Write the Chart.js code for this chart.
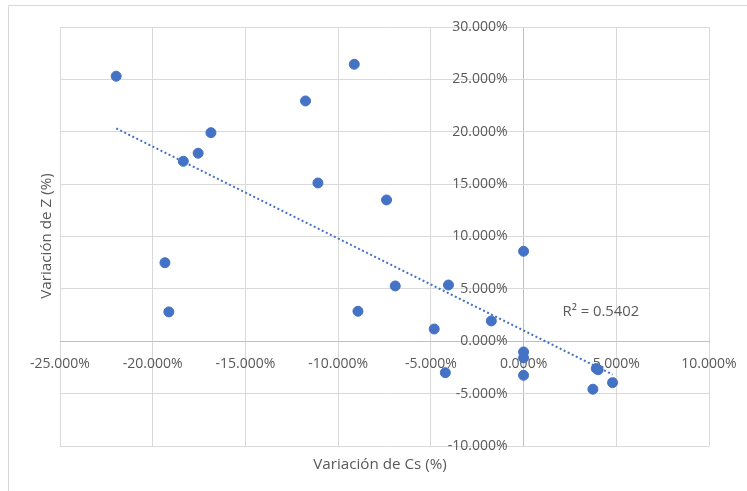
<!DOCTYPE html>
<html>
<head>
<meta charset="utf-8">
<script src="https://cdn.jsdelivr.net/npm/chart.js@4/dist/chart.umd.min.js"></script>
<style>
html,body{margin:0;padding:0;background:#fff;}
canvas{display:block;}
</style>
</head>
<body>
<canvas id="c" width="747" height="491"></canvas>
<script>
// Data (percent units)
const csVariation = [-21.97, -9.13, -11.76, -16.86, -17.55, -18.35, -11.09, -7.39, 0.0, -19.34, -19.13, -8.93, -6.92, -4.05, -1.74, -4.82, 0.0, 0.0, -4.22, 0.0, 3.92, 4.02, 3.74, 4.80];
const zVariation  = [25.30, 26.44, 22.94, 19.91, 17.95, 17.18, 15.11, 13.49, 8.59, 7.50, 2.80, 2.86, 5.28, 5.37, 1.94, 1.17, -1.02, -1.59, -3.00, -3.25, -2.60, -2.72, -4.58, -3.95];
const xTicks = [-25, -20, -15, -10, -5, 0, 5, 10];
const yTicks = [-10, -5, 0, 5, 10, 15, 20, 25, 30];
const xTitle = 'Variación de Cs (%)';
const yTitle = 'Variación de Z (%)';
const r2Label = 'R² = 0.5402';

const points = csVariation.map((x, i) => ({x: x, y: zVariation[i]}));

// linear trendline (least squares) over data range
const n = points.length;
const mx = csVariation.reduce((a, b) => a + b, 0) / n;
const my = zVariation.reduce((a, b) => a + b, 0) / n;
let sxy = 0, sxx = 0;
for (let i = 0; i < n; i++) { sxy += (csVariation[i] - mx) * (zVariation[i] - my); sxx += (csVariation[i] - mx) ** 2; }
const slope = sxy / sxx;
const intercept = my - slope * mx;
const xmin = Math.min(...csVariation), xmax = Math.max(...csVariation);
const trend = [{x: xmin, y: intercept + slope * xmin}, {x: xmax, y: intercept + slope * xmax}];

const FONT = '"Open Sans", "Liberation Sans", sans-serif';
const TXT = '#595959';
const BLUE = '#4472C4';
const GRID = '#d9d9d9';
const ZERO = '#bfbfbf';

const decor = {
  id: 'decor',
  beforeDraw(chart) {
    const ctx = chart.ctx;
    ctx.save();
    ctx.strokeStyle = GRID;
    ctx.lineWidth = 1;
    ctx.strokeRect(8.5, 5.5, 900, 700);
    ctx.restore();
  },
  afterDraw(chart) {
    const ctx = chart.ctx;
    const xs = chart.scales.x, ys = chart.scales.y;
    ctx.save();
    ctx.fillStyle = TXT;
    ctx.font = '15.2px ' + FONT;
    ctx.textAlign = 'center';
    ctx.textBaseline = 'middle';
    ctx.fillText(xTitle, 380, 465);
    ctx.save();
    ctx.translate(47, 236);
    ctx.rotate(-Math.PI / 2);
    ctx.fillText(yTitle, 0, 0);
    ctx.restore();
    ctx.font = '14.8px ' + FONT;
    ctx.textAlign = 'left';
    ctx.fillText(r2Label, xs.getPixelForValue(2.1), ys.getPixelForValue(2.8));
    ctx.restore();
  }
};

new Chart(document.getElementById('c'), {
  type: 'scatter',
  data: {
    datasets: [
      {
        label: 'Datos',
        data: points,
        backgroundColor: BLUE,
        borderColor: BLUE,
        pointRadius: 5,
        pointBorderWidth: 1,
        order: 1
      },
      {
        label: 'Tendencia',
        data: trend,
        showLine: true,
        borderColor: BLUE,
        borderWidth: 2,
        borderDash: [2, 2.5],
        pointRadius: 0,
        fill: false,
        order: 2
      }
    ]
  },
  options: {
    responsive: false,
    animation: false,
    devicePixelRatio: 1,
    layout: { padding: { left: 60, right: 38, top: 27, bottom: 45 } },
    plugins: { legend: { display: false }, tooltip: { enabled: false } },
    scales: {
      x: {
        type: 'linear',
        position: { y: 0 },
        min: -25, max: 10,
        afterBuildTicks(scale) { scale.ticks = xTicks.map(v => ({value: v})); },
        afterFit(scale) { scale.paddingLeft = 0; scale.paddingRight = 0; },
        grid: { color: ctx => (ctx.tick && ctx.tick.value === 0 ? ZERO : GRID), lineWidth: 1, drawTicks: false },
        border: { display: true, color: ZERO, width: 1 },
        ticks: {
          color: TXT,
          font: { family: FONT, size: 14 },
          padding: 14,
          maxRotation: 0,
          callback: v => v.toFixed(3) + '%'
        }
      },
      y: {
        type: 'linear',
        // labels sit ~16px left of the x = 0 line, as in the reference
        position: { x: -0.86 },
        min: -10, max: 30,
        afterBuildTicks(scale) { scale.ticks = yTicks.map(v => ({value: v})); },
        afterFit(scale) { scale.paddingTop = 0; scale.paddingBottom = 0; },
        grid: { color: ctx => (ctx.tick && ctx.tick.value === 0 ? ZERO : GRID), lineWidth: 1, drawTicks: false },
        border: { display: false },
        ticks: {
          color: TXT,
          font: { family: FONT, size: 14 },
          padding: 0,
          callback: v => v.toFixed(3) + '%'
        }
      }
    }
  },
  plugins: [decor]
});
</script>
</body>
</html>
